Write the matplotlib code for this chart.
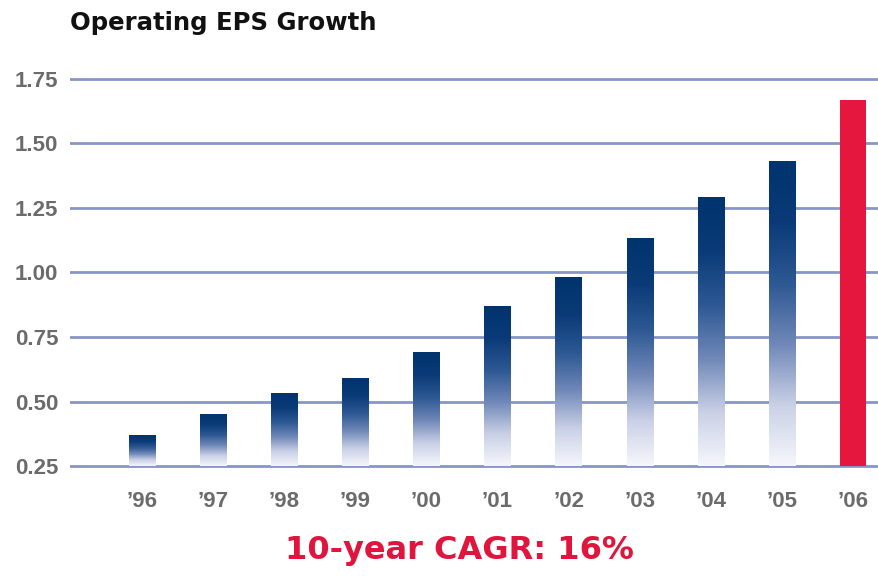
import numpy as np
import matplotlib
matplotlib.use("Agg")
import matplotlib.pyplot as plt
from matplotlib.colors import LinearSegmentedColormap

# data
years = ["\u201996", "\u201997", "\u201998", "\u201999", "\u201900", "\u201901",
         "\u201902", "\u201903", "\u201904", "\u201905", "\u201906"]
eps = [0.37, 0.45, 0.53, 0.59, 0.69, 0.87, 0.98, 1.13, 1.29, 1.43, 1.67]
yticks = [0.25, 0.50, 0.75, 1.00, 1.25, 1.50, 1.75]

W, H = 879, 577
plt.rcParams["font.family"] = ["Liberation Sans", "DejaVu Sans"]

fig = plt.figure(figsize=(W / 100, H / 100), dpi=100)
# axes placed in pixel terms: left 70, right 879, y from 0.25 line (466) to 1.75 line (79)
y_lo, y_hi = 0.235, 1.765
px_per = (466 - 79) / 1.5
top_px = 79 - (y_hi - 1.75) * px_per
bot_px = 466 + (0.25 - y_lo) * px_per
ax = fig.add_axes([70 / W, 1 - bot_px / H, (W - 70) / W, (bot_px - top_px) / H])

x = np.arange(len(years))
bars = ax.bar(x, [v - 0.25 for v in eps], bottom=0.25, width=0.37,
              color="none", edgecolor="none", zorder=3)

grad = LinearSegmentedColormap.from_list(
    "navy", ["#f6f7fc", "#c9d0e6", "#7088b8", "#2d5893", "#0a3b78", "#00346e"])
g = np.linspace(0, 1, 256).reshape(-1, 1)
for i, b in enumerate(bars):
    x0, y0 = b.get_x(), b.get_y()
    x1, y1 = x0 + b.get_width(), y0 + b.get_height()
    if i == len(bars) - 1:
        b.set_facecolor("#e5173f")
        continue
    ax.imshow(g, cmap=grad, origin="lower", aspect="auto",
              extent=(x0, x1, y0, y1), zorder=3, interpolation="bilinear")

ax.set_xlim(-1.013, 10.366)
ax.set_ylim(y_lo, y_hi)
ax.set_yticks(yticks)
ax.set_yticklabels([f"{v:.2f}" for v in yticks])
ax.set_xticks(x)
ax.set_xticklabels(years)
ax.tick_params(length=0, labelsize=16, labelcolor="#6b6b6b")
ax.tick_params(axis="x", pad=15)
ax.tick_params(axis="y", pad=8.5)
for lab in ax.get_xticklabels() + ax.get_yticklabels():
    lab.set_fontweight("bold")

ax.grid(axis="y", color="#8796c8", linewidth=2, zorder=1)
for s in ax.spines.values():
    s.set_visible(False)

fig.text(70 / W, 1 - 11 / H, "Operating EPS Growth", fontsize=17.6,
         fontweight="bold", color="#111111", ha="left", va="top",
         family="DejaVu Sans")
fig.text(459 / W, 1 - 551 / H, "10-year CAGR: 16%", fontsize=23,
         fontweight="bold", color="#e0143c", ha="center", va="center",
         family="DejaVu Sans")

fig.savefig("out.png", dpi=100)
